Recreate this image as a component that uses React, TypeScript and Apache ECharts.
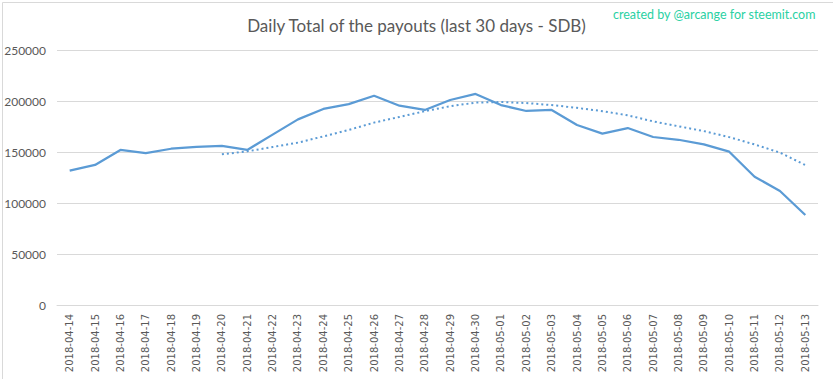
import React, { useEffect, useRef } from "react";
import * as echarts from "echarts";

const dates = [
  "2018-04-14", "2018-04-15", "2018-04-16", "2018-04-17", "2018-04-18", "2018-04-19",
  "2018-04-20", "2018-04-21", "2018-04-22", "2018-04-23", "2018-04-24", "2018-04-25",
  "2018-04-26", "2018-04-27", "2018-04-28", "2018-04-29", "2018-04-30", "2018-05-01",
  "2018-05-02", "2018-05-03", "2018-05-04", "2018-05-05", "2018-05-06", "2018-05-07",
  "2018-05-08", "2018-05-09", "2018-05-10", "2018-05-11", "2018-05-12", "2018-05-13",
];

const payouts = [
  131700, 137300, 152000, 149000, 153200, 155000, 156000, 152000, 167000, 182000,
  192200, 197000, 205200, 195400, 191200, 201000, 206900, 196000, 190200, 191200,
  176500, 168000, 173500, 164700, 162000, 157500, 150300, 125800, 111800, 88200,
];

// 7-day moving-average trend line (starts at 2018-04-20)
const trend = [
  null, null, null, null, null, null,
  147700, 150600, 154900, 159200, 165300, 171600, 178800, 184400, 190000, 194900,
  198400, 199000, 198000, 196000, 193300, 190000, 186000, 180000, 175200, 170500,
  164600, 157400, 149400, 137200,
];

const yTicks = { min: 0, max: 250000, interval: 50000 };

const titleText = "Daily Total of the payouts (last 30 days - SDB)";
const creditText = "created by @arcange for steemit.com";

export default function App() {
  const ref = useRef<HTMLDivElement>(null);
  useEffect(() => {
    if (!ref.current) return;
    const chart = echarts.init(ref.current, null, { renderer: "svg" });
    const font = "Lato, 'Open Sans', sans-serif";
    chart.setOption({
      animation: false,
      backgroundColor: "#ffffff",
      title: {
        text: titleText,
        left: "center",
        top: 12,
        textStyle: { fontFamily: font, fontSize: 17, fontWeight: "normal", color: "#595959" },
      },
      graphic: [
        {
          type: "rect",
          left: 0,
          top: 0,
          shape: { x: 0.5, y: 0.5, width: 832, height: 378 },
          style: { fill: "none", stroke: "#d9d9d9", lineWidth: 1 },
          silent: true,
        },
        {
          type: "text",
          left: 613,
          top: 8,
          style: { text: creditText, fontFamily: font, fontSize: 12.5, fill: "#2ad1a3" },
        },
      ],
      grid: { left: 57, right: 15, top: 50, bottom: 74, containLabel: false },
      xAxis: {
        type: "category",
        data: dates,
        boundaryGap: true,
        axisLine: { show: true, lineStyle: { color: "#d9d9d9", width: 1 } },
        axisTick: { show: false },
        axisLabel: {
          rotate: 90,
          interval: 0,
          margin: 9,
          fontFamily: "'DejaVu Sans', sans-serif",
          fontSize: 10,
          color: "#595959",
        },
      },
      yAxis: {
        type: "value",
        min: yTicks.min,
        max: yTicks.max,
        interval: yTicks.interval,
        axisLine: { show: false },
        axisTick: { show: false },
        splitLine: { lineStyle: { color: "#d9d9d9", width: 1 } },
        axisLabel: {
          margin: 11,
          fontFamily: font,
          fontSize: 12,
          color: "#595959",
          formatter: (v: number) => String(v),
        },
      },
      series: [
        {
          type: "line",
          data: payouts,
          symbol: "none",
          lineStyle: { color: "#5b9bd5", width: 2.25 },
          itemStyle: { color: "#5b9bd5" },
          z: 3,
        },
        {
          type: "line",
          data: trend,
          symbol: "none",
          connectNulls: false,
          lineStyle: { color: "#5b9bd5", width: 2, type: [2, 3] },
          itemStyle: { color: "#5b9bd5" },
          z: 2,
        },
      ],
    });
    return () => chart.dispose();
  }, []);
  return (
    <div
      ref={ref}
      style={{ position: "fixed", left: 0, top: 0, width: 833, height: 379 }}
    />
  );
}
